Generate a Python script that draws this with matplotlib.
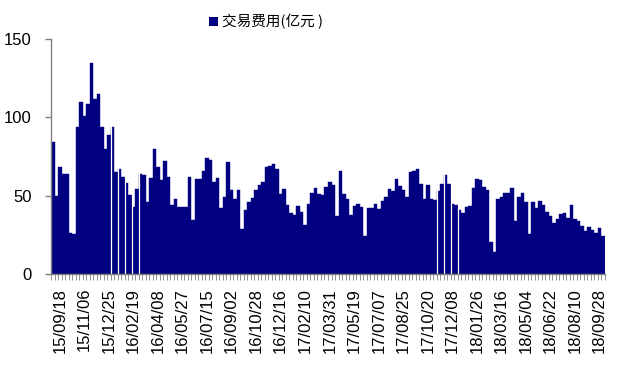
import numpy as np
import matplotlib
matplotlib.use('Agg')
import matplotlib.pyplot as plt
from matplotlib.patches import Patch

plt.rcParams['font.family'] = ['Liberation Sans', 'Noto Sans CJK SC', 'DejaVu Sans']

# weekly trading cost, 100 million yuan
values = [84, 50, 68, 64, 64, 26, 25.5, 94, 110, 101,
          108.5, 135, 112, 115, 94, 80, 89, 94, 65, 67,
          62, 58, 50.5, 43, 54, 64, 63, 46, 61, 80,
          68, 60, 72, 62, 44, 48, 43, 42.5, 42.5, 62,
          34.5, 60.5, 60.5, 65.5, 74, 73, 58.7, 61, 42, 49,
          71.5, 53.6, 48, 53.6, 28.7, 41, 45.7, 48.3, 53.6, 57,
          58.7, 68, 68.7, 70, 66.8, 50.9, 54, 43.8, 38.7, 37.4,
          43.2, 39.4, 31, 44.5, 52, 54.7, 50.9, 50.2, 55.3, 58.5,
          56.6, 36.8, 65.5, 50.9, 47.7, 37.4, 43.2, 44.5, 42.5, 24,
          42, 42, 44.5, 41.3, 46.4, 49, 54, 52.8, 60.4, 56,
          53.4, 49, 65, 65.5, 66.8, 57.2, 47.9, 56.6, 47.9, 47,
          52.8, 57.2, 63, 57.2, 45, 43.8, 40.6, 38.7, 42.5, 43.2,
          54.7, 60.4, 59.8, 55.3, 53.4, 20.2, 13.8, 47.7, 49, 52,
          51.5, 54.7, 33.6, 49, 51.5, 45.7, 25.3, 45.7, 42, 46.4,
          43.8, 39.4, 36.8, 32.3, 34.9, 38.1, 38.7, 35.5, 43.8, 34.9,
          33.6, 30.4, 27.2, 29.8, 27.9, 26, 29.1, 24]

tick_labels = ['15/09/18', '15/11/06', '15/12/25', '16/02/19', '16/04/08',
               '16/05/27', '16/07/15', '16/09/02', '16/10/28', '16/12/16',
               '17/02/10', '17/03/31', '17/05/19', '17/07/07', '17/08/25',
               '17/10/20', '17/12/08', '18/01/26', '18/03/16', '18/05/04',
               '18/06/22', '18/08/10', '18/09/28']
first_label = 2
label_step = 7

# thin white seams visible between some bars in the original
seams = [17, 19, 21, 23, 25, 110, 112, 114, 116]

legend_label = '交易费用(亿元 )'
bar_color = '#000080'
axis_color = '#808080'

fig = plt.figure(figsize=(6.21, 3.77), dpi=100)
ax = fig.add_axes([51 / 621, 1 - 274 / 377, 554 / 621, 235 / 377])

x = np.arange(len(values))
ax.bar(x, values, width=1.0, color=bar_color, linewidth=0.3, edgecolor=bar_color)
for s in seams:
    ax.axvline(s - 0.5, color='white', lw=0.9, zorder=3)

ax.set_xlim(-0.5, len(values) - 0.5)
ax.set_ylim(0, 150)
ax.set_yticks([0, 50, 100, 150])

for side in ['top', 'right']:
    ax.spines[side].set_visible(False)
for side in ['left', 'bottom']:
    ax.spines[side].set_color(axis_color)
    ax.spines[side].set_linewidth(1)
    ax.spines[side].set_zorder(4)

ax.tick_params(axis='y', length=4, width=1, color=axis_color, labelsize=12, pad=10)

pos = np.arange(first_label, len(values), label_step)
ax.set_xticks(pos)
ax.set_xticklabels(tick_labels, rotation=90, fontsize=12)
ax.set_xticks(np.arange(-0.5, len(values), 1), minor=True)
ax.tick_params(axis='x', which='major', length=0, pad=10)
ax.tick_params(axis='x', which='minor', length=4, width=0.6, color=axis_color)

leg = ax.legend(handles=[Patch(facecolor=bar_color)], labels=[legend_label],
                loc='center', bbox_to_anchor=(266 / 621, 1 - 22 / 377),
                bbox_transform=fig.transFigure, frameon=False,
                handlelength=0.6, handleheight=0.6, handletextpad=0.3,
                prop={'family': ['Noto Sans CJK SC', 'DejaVu Sans'], 'size': 10.5})

fig.savefig('out.png', dpi=100)
